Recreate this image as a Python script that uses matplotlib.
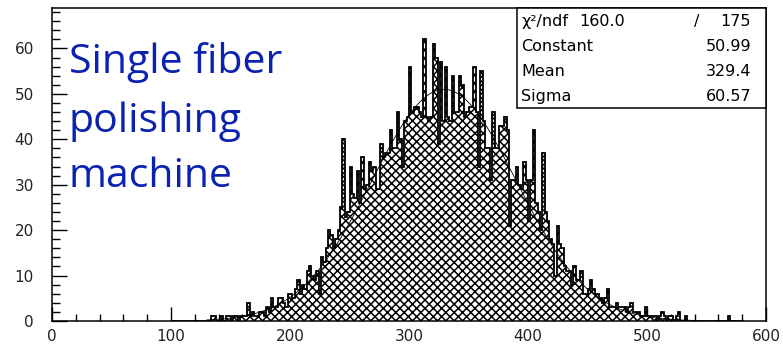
import numpy as np
import matplotlib
matplotlib.use("Agg")
import matplotlib.pyplot as plt
from matplotlib.patches import Rectangle
from matplotlib.ticker import MultipleLocator

# ---- data ----
bin_start = 100
bin_width = 2
counts = [
    # 100-130
    0, 0, 0, 0, 0, 0, 0, 0, 0, 0, 0, 0, 0, 0, 0,
    # 130-180
    0, 0, 1, 1, 0,   0, 1, 0, 1, 1,   0, 1, 1, 0, 1,   1, 1, 4, 1, 2,   1, 1, 2, 2, 1,
    # 180-230
    3, 2, 5, 3, 3,   5, 5, 4, 3, 6,   6, 5, 7, 9, 6,   8, 7, 11, 12, 10,   9, 11, 6, 14, 13,
    # 230-280
    16, 20, 19, 16, 18,   20, 25, 40, 23, 24,   34, 28, 27, 33, 26,   36, 29, 30, 35, 33,   34, 29, 29, 39, 36,
    # 280-330
    37, 37, 42, 38, 38,   46, 40, 34, 44, 45,   56, 46, 47, 47, 46,   45, 62, 45, 44, 45,   61, 58, 39, 57, 44,
    # 330-380
    56, 45, 44, 54, 46,   46, 54, 52, 45, 46,   47, 47, 56, 46, 34,   55, 44, 38, 38, 31,   46, 38, 38, 43, 43,
    # 380-430
    45, 42, 21, 31, 31,   34, 30, 29, 35, 31,   22, 31, 42, 26, 24,   20, 37, 24, 22, 18,   17, 10, 21, 17, 16,
    # 430-480
    12, 11, 11, 8, 12,   9, 9, 11, 6, 6,   7, 9, 7, 6, 6,   5, 4, 5, 7, 3,   3, 3, 4, 3, 3,
    # 480-530
    3, 2, 3, 4, 2,   2, 2, 1, 1, 3,   1, 1, 1, 1, 0,   1, 2, 1, 0, 1,   1, 0, 1, 2, 0,
    # 530-580
    0, 1, 0, 0, 0,   0, 0, 0, 0, 0,   0, 0, 0, 0, 0,   0, 0, 0, 0, 1,   0, 0, 0, 0, 0,
]
fit_constant = 50.99
fit_mean = 329.4
fit_sigma = 60.57
stats_rows = [("Constant", "50.99"), ("Mean", "329.4"), ("Sigma", "60.57")]
chi2_label = "χ²/ndf"
chi2_value = "160.0"
ndf_value = "175"
title_lines = ["Single fiber", "polishing", "machine"]
x_ticks = [0, 100, 200, 300, 400, 500, 600]
y_ticks = [0, 10, 20, 30, 40, 50, 60]

# ---- figure ----
W, H = 783, 345
plt.rcParams['hatch.linewidth'] = 1.1
fig = plt.figure(figsize=(W / 100, H / 100), dpi=100)
ax = fig.add_axes([52 / W, 24 / H, 714 / W, 313 / H])
ax.set_xlim(0, 600)
ax.set_ylim(0, 68.9)

counts = np.array(counts, dtype=float)
edges = bin_start + bin_width * np.arange(len(counts) + 1)

ax.stairs(counts, edges, fill=True, facecolor='white', edgecolor='black',
          hatch='xxxx', linewidth=0, zorder=2)
ax.stairs(counts, edges, fill=False, color='black', linewidth=1.3, zorder=3)

xf = np.linspace(130, 540, 400)
ax.plot(xf, fit_constant * np.exp(-0.5 * ((xf - fit_mean) / fit_sigma) ** 2),
        color='black', linewidth=0.6, zorder=4)

for s in ax.spines.values():
    s.set_linewidth(1.1)
    s.set_color('black')

ax.set_xticks(x_ticks)
ax.set_yticks(y_ticks)
ax.xaxis.set_minor_locator(MultipleLocator(20))
ax.yaxis.set_minor_locator(MultipleLocator(2))
ax.tick_params(axis='x', which='major', direction='in', length=10, width=1.0,
               pad=6, labelsize=11, labelcolor='#222222', top=False)
ax.tick_params(axis='x', which='minor', direction='in', length=5, width=1.0, top=False)
ax.tick_params(axis='y', which='major', direction='in', length=11, width=1.0,
               pad=13, labelsize=11, labelcolor='#222222', right=False)
ax.tick_params(axis='y', which='minor', direction='in', length=6, width=1.0, right=False)

# ---- stats box ----
x0 = (517 - 52) / 714
y0 = (321 - 108) / 313
ax.add_patch(Rectangle((x0, y0), 1 - x0, 1 - y0, transform=ax.transAxes,
                       facecolor='white', edgecolor='black', linewidth=1.1,
                       zorder=10, clip_on=False))
row_y = [(321 - py) / 313 for py in (22, 47, 72, 97)]
xl = (521 - 52) / 714
xr = (751 - 52) / 714
fs = 11.5
ax.text(xl, row_y[0], chi2_label, transform=ax.transAxes, ha='left', va='center',
        fontsize=fs, zorder=11)
ax.text((602 - 52) / 714, row_y[0], chi2_value, transform=ax.transAxes, ha='center',
        va='center', fontsize=fs, zorder=11)
ax.text((697 - 52) / 714, row_y[0], "/", transform=ax.transAxes, ha='center',
        va='center', fontsize=fs, zorder=11)
ax.text(xr, row_y[0], ndf_value, transform=ax.transAxes, ha='right', va='center',
        fontsize=fs, zorder=11)
for (name, val), yy in zip(stats_rows, row_y[1:]):
    ax.text(xl, yy, name, transform=ax.transAxes, ha='left', va='center',
            fontsize=fs, zorder=11)
    ax.text(xr, yy, val, transform=ax.transAxes, ha='right', va='center',
            fontsize=fs, zorder=11)

# ---- blue title ----
for line, py in zip(title_lines, (73, 132, 187)):
    fig.text(69 / W, 1 - py / H, line, ha='left', va='baseline',
             fontsize=29.5, family='Open Sans', color='#0b22b0')

fig.savefig("out.png", dpi=100)
